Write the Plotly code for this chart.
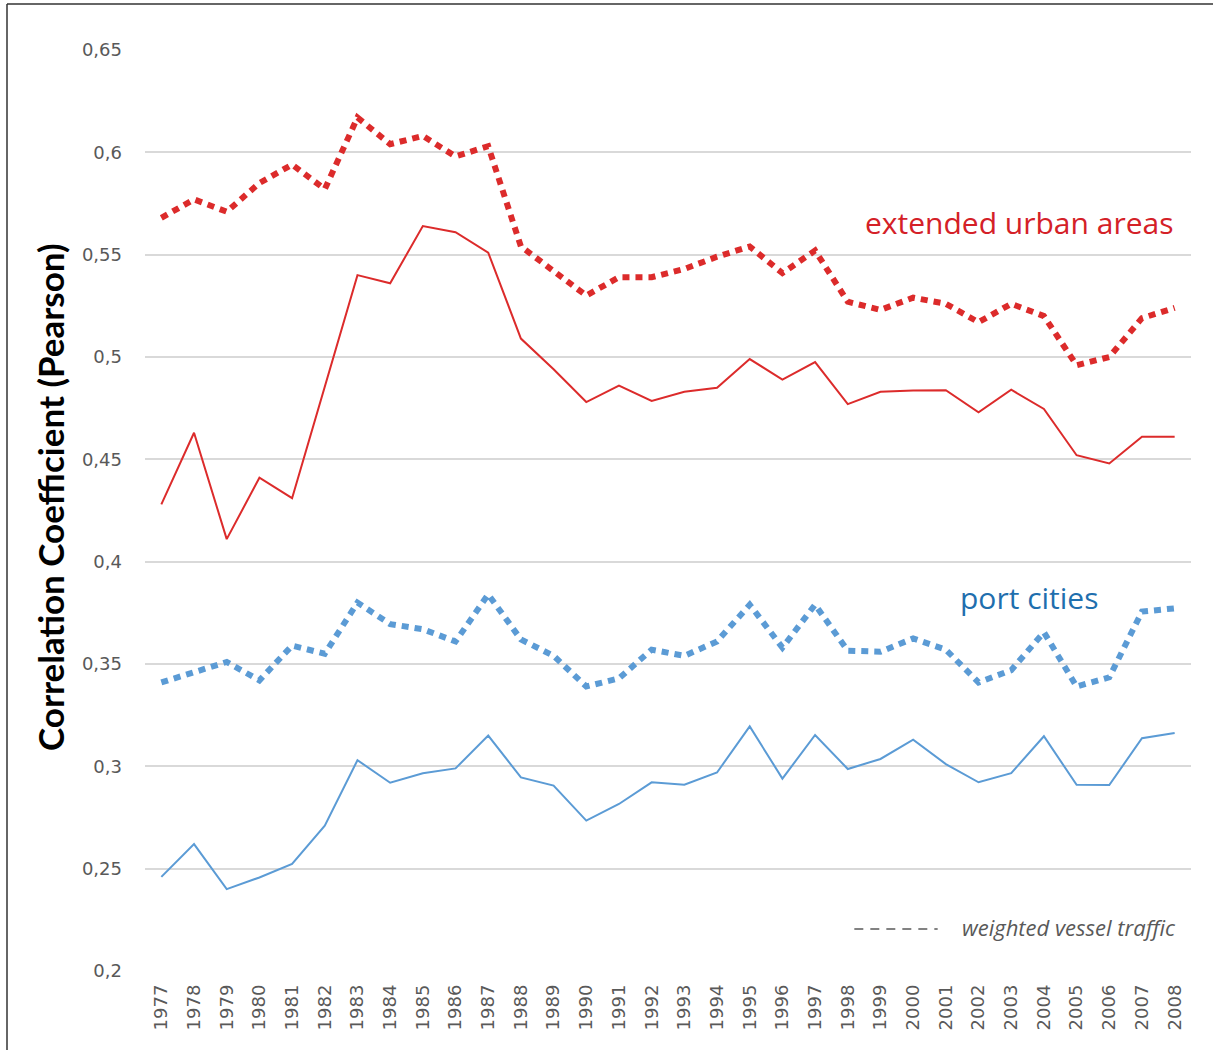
import plotly.graph_objects as go

years = list(range(1977, 2009))

urban_traffic = [0.568, 0.577, 0.571, 0.585, 0.594, 0.582, 0.617, 0.604, 0.608, 0.598,
                 0.603, 0.554, 0.542, 0.530, 0.539, 0.539, 0.543, 0.549, 0.554, 0.541,
                 0.552, 0.527, 0.523, 0.529, 0.526, 0.517, 0.526, 0.520, 0.496, 0.500,
                 0.519, 0.524]
urban = [0.428, 0.463, 0.411, 0.441, 0.431, 0.486, 0.540, 0.536, 0.564, 0.561,
         0.551, 0.509, 0.494, 0.478, 0.486, 0.4785, 0.483, 0.485, 0.499, 0.489,
         0.4975, 0.477, 0.483, 0.4836, 0.4838, 0.473, 0.484, 0.4746, 0.452, 0.448,
         0.461, 0.461]
port_traffic = [0.341, 0.346, 0.351, 0.342, 0.359, 0.355, 0.380, 0.3695, 0.367, 0.361,
                0.384, 0.362, 0.354, 0.339, 0.343, 0.357, 0.354, 0.361, 0.379, 0.358,
                0.379, 0.3565, 0.356, 0.3625, 0.357, 0.341, 0.347, 0.3655, 0.339, 0.3435,
                0.3756, 0.3772]
port = [0.246, 0.262, 0.240, 0.2457, 0.2523, 0.271, 0.303, 0.292, 0.2966, 0.299,
        0.315, 0.2946, 0.2906, 0.2735, 0.2816, 0.2922, 0.291, 0.297, 0.3195, 0.294,
        0.3153, 0.2987, 0.3036, 0.313, 0.3011, 0.2922, 0.2967, 0.3147, 0.291, 0.2909,
        0.3137, 0.3163]

y_ticks = [0.2, 0.25, 0.3, 0.35, 0.4, 0.45, 0.5, 0.55, 0.6, 0.65]
y_ticktext = ["0,2", "0,25", "0,3", "0,35", "0,4", "0,45", "0,5", "0,55", "0,6", "0,65"]

RED = "#dc2b2b"
BLUE = "#5b9bd5"

fig = go.Figure()
fig.add_trace(go.Scatter(x=years, y=urban_traffic, mode="lines",
                         line=dict(color=RED, width=6, dash="7px,6px"), name="urban traffic"))
fig.add_trace(go.Scatter(x=years, y=urban, mode="lines",
                         line=dict(color=RED, width=2), name="urban"))
fig.add_trace(go.Scatter(x=years, y=port_traffic, mode="lines",
                         line=dict(color=BLUE, width=6, dash="7px,6px"), name="port traffic"))
fig.add_trace(go.Scatter(x=years, y=port, mode="lines",
                         line=dict(color=BLUE, width=2), name="port"))

PL, PR, PT, PB = 145, 1191, 50, 971  # plot area in page pixels


def px_x(p):
    return (p - PL) / (PR - PL)


def px_y(p):
    return (PB - p) / (PB - PT)


fig.update_layout(
    width=1213, height=1050,
    margin=dict(l=PL, r=1213 - PR, t=PT, b=1050 - PB),
    paper_bgcolor="white", plot_bgcolor="white",
    showlegend=False,
    xaxis=dict(range=[1976.5, 2008.5], tickmode="array", tickvals=years,
               ticktext=[str(y) for y in years], tickangle=-90,
               showgrid=False, zeroline=False, showline=False, ticks="",
               ticklabelstandoff=9,
               tickfont=dict(family="DejaVu Sans", size=18, color="#595959")),
    yaxis=dict(range=[0.2, 0.65], tickmode="array", tickvals=y_ticks, ticktext=y_ticktext,
               showgrid=True, gridcolor="#d9d9d9", gridwidth=2, zeroline=False,
               showline=False, ticks="", ticklabelstandoff=22,
               tickfont=dict(family="DejaVu Sans", size=18, color="#595959")),
)

# y-axis title
fig.add_annotation(x=px_x(50), y=px_y(497), xref="paper", yref="paper",
                   text="<b>Correlation Coefficient (Pearson)</b>", textangle=-90,
                   showarrow=False, xanchor="center", yanchor="middle",
                   font=dict(family="Lato", size=35, color="black"))

fig.add_annotation(x=2008, y=0.5655, xref="x", yref="y", text="extended urban areas",
                   showarrow=False, xanchor="right", yanchor="middle",
                   font=dict(family="Open Sans", size=30, color="#d42027"))
fig.add_annotation(x=2003.55, y=0.3827, xref="x", yref="y", text="port cities",
                   showarrow=False, xanchor="center", yanchor="middle",
                   font=dict(family="Open Sans", size=30, color="#1f6fae"))
fig.add_annotation(x=2001.43, y=0.2215, xref="x", yref="y", text="<i>weighted vessel traffic</i>",
                   showarrow=False, xanchor="left", yanchor="middle",
                   font=dict(family="Open Sans", size=22, color="#595959"))
fig.add_shape(type="line", xref="x", yref="y", x0=1998.2, x1=2000.75, y0=0.2205, y1=0.2205,
              line=dict(color="#595959", width=1.5, dash="9px,7px"))

# frame edges of the image (top and left)
fig.add_shape(type="line", xref="paper", yref="paper",
              x0=px_x(7), x1=px_x(1213), y0=px_y(4), y1=px_y(4),
              line=dict(color="#333333", width=1.5), layer="below")
fig.add_shape(type="line", xref="paper", yref="paper",
              x0=px_x(7), x1=px_x(7), y0=px_y(4), y1=px_y(1050),
              line=dict(color="#333333", width=1.5), layer="below")

fig.write_html("out.html", config={"displayModeBar": False},
               post_script="document.body.style.margin='0';document.body.style.overflow='hidden';")
